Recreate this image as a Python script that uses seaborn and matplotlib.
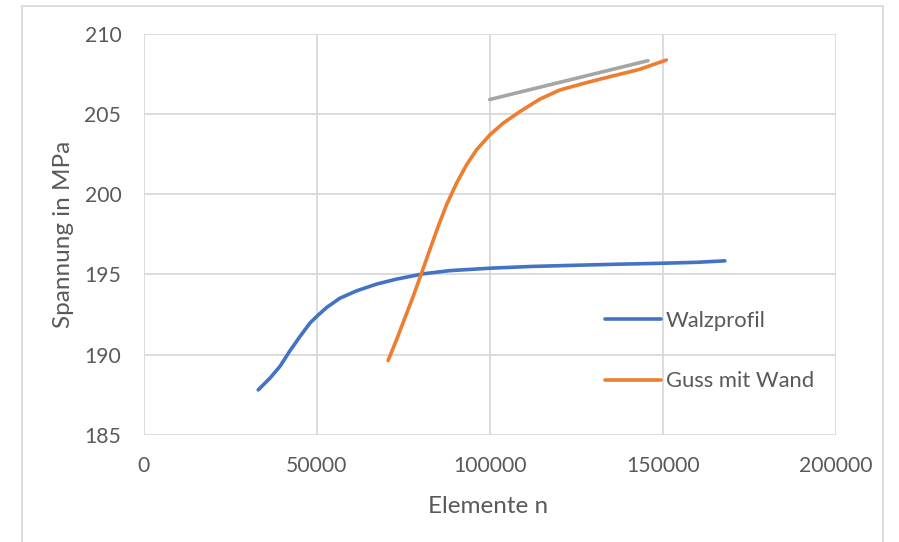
# Spannung vs. Elementanzahl - Konvergenzstudie (Excel-Stil nachgebaut)

import pandas as pd
import matplotlib.pyplot as plt
import seaborn as sns
from matplotlib.patches import Rectangle

# --- Werte ---
walz_n = [33130, 36510, 39390, 42280, 45170, 48060, 49990, 52870, 56710, 61530,
          67300, 73070, 80750, 88450, 100000, 112000, 124050, 137000, 150000,
          160000, 167900]
walz_s = [187.81, 188.54, 189.27, 190.24, 191.13, 191.97, 192.38, 192.94, 193.52,
          193.98, 194.40, 194.71, 195.04, 195.24, 195.39, 195.50, 195.57, 195.64,
          195.70, 195.76, 195.85]

guss_n = [70650, 73070, 75470, 77860, 80290, 82680, 85080, 87500, 90390, 93270,
          96160, 100000, 103840, 108660, 114430, 120200, 127900, 135580, 143290,
          151000]
guss_s = [189.64, 190.93, 192.28, 193.62, 195.08, 196.53, 197.98, 199.33, 200.68,
          201.82, 202.76, 203.69, 204.42, 205.14, 205.92, 206.49, 206.95, 207.37,
          207.78, 208.36]

grau_n = [100000, 145700]
grau_s = [205.90, 208.32]

x_ticks = [0, 50000, 100000, 150000, 200000]
y_ticks = [185, 190, 195, 200, 205, 210]

BLUE = '#4472C4'
ORANGE = '#ED7D31'
GREY = '#A5A5A5'
TXT = '#595959'
GRID = '#D9D9D9'


def main():
    sns.set_theme(style="whitegrid")
    plt.rcParams['font.family'] = ['Lato', 'DejaVu Sans']

    df = pd.concat([
        pd.DataFrame({'n': walz_n, 's': walz_s, 'serie': 'Walzprofil'}),
        pd.DataFrame({'n': guss_n, 's': guss_s, 'serie': 'Guss mit Wand'}),
    ], ignore_index=True)

    fig = plt.figure(figsize=(8.99, 5.42), dpi=100)
    ax = fig.add_axes([143.5 / 899, 1 - 435 / 542, 692.5 / 899, 401.3 / 542])

    # outer chart frame (bottom is cut off in the original)
    fig.patches.append(Rectangle((22 / 899, -0.1), 861 / 899, 1.1 - 6 / 542,
                                 transform=fig.transFigure, fill=False,
                                 edgecolor=GRID, linewidth=1.3))

    sns.lineplot(data=df, x='n', y='s', hue='serie', sort=False, ax=ax,
                 palette={'Walzprofil': BLUE, 'Guss mit Wand': ORANGE},
                 linewidth=2.6, estimator=None)
    sns.lineplot(x=grau_n, y=grau_s, ax=ax, color=GREY, linewidth=2.6,
                 legend=False)
    for ln in ax.lines:
        ln.set_solid_capstyle('round')
        ln.set_solid_joinstyle('round')

    ax.set_xlim(0, 200000)
    ax.set_ylim(185, 210)
    ax.set_xticks(x_ticks)
    ax.set_yticks(y_ticks)
    ax.set_xticklabels([str(v) for v in x_ticks])
    ax.grid(True, color=GRID, linewidth=1.3)
    for sp in ax.spines.values():
        sp.set_visible(False)
    ax.tick_params(axis='both', length=0, labelsize=15.2, labelcolor=TXT)
    ax.tick_params(axis='x', pad=15)
    ax.tick_params(axis='y', pad=16)

    ax.set_xlabel('Elemente n', fontsize=17.5, color=TXT)
    ax.set_ylabel('Spannung in MPa', fontsize=17.5, color=TXT)
    ax.xaxis.set_label_coords(0.497, -0.152)
    ax.yaxis.set_label_coords(-0.100, 0.5)

    handles, labels = ax.get_legend_handles_labels()
    leg = ax.legend(handles, labels, loc='center left',
                    bbox_to_anchor=(605 / 899, 1 - 351 / 542),
                    bbox_transform=fig.transFigure, frameon=False,
                    borderpad=0, borderaxespad=0, handlelength=2.55,
                    handletextpad=0.22, labelspacing=1.85, fontsize=15.8)
    for t in leg.get_texts():
        t.set_color(TXT)
    for h in leg.get_lines():
        h.set_linewidth(2.6)

    fig.savefig('out.png', dpi=100)


if __name__ == "__main__":
    main()
